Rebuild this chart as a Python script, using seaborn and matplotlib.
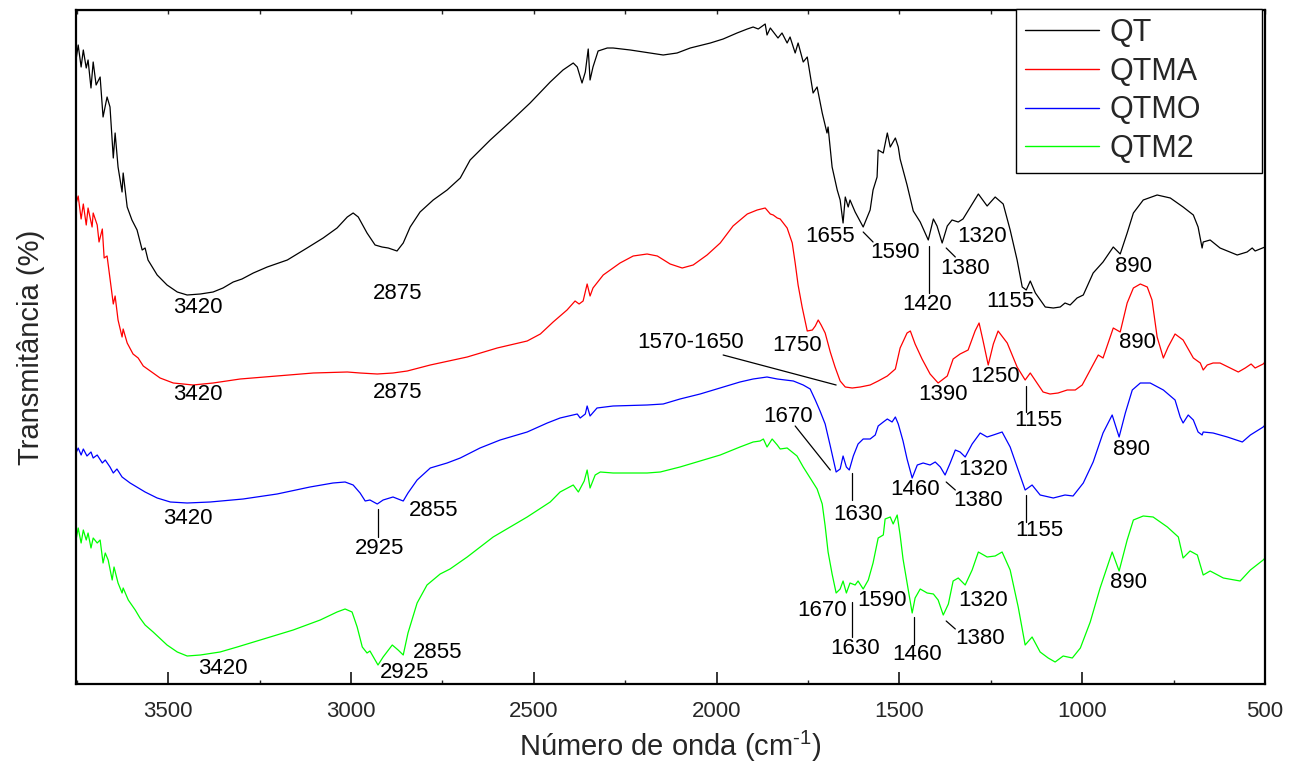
import matplotlib
matplotlib.use("Agg")
import matplotlib.pyplot as plt
import seaborn as sns
import pandas as pd
from matplotlib.ticker import MultipleLocator, NullFormatter

# FTIR spectra (wavenumber in cm-1, transmittance in arbitrary offset units)
qt_wn = [3752, 3746, 3738, 3732, 3724, 3719, 3711, 3705, 3697, 3686, 3678, 3667, 3659, 3650,
         3645, 3637, 3626, 3623, 3612, 3599, 3585, 3571, 3563, 3555, 3530, 3503, 3475, 3448,
         3412, 3377, 3350, 3322, 3298, 3267, 3229, 3174, 3120, 3076, 3038, 3010, 2994, 2980,
         2956, 2934, 2915, 2898, 2874, 2857, 2838, 2811, 2775, 2737, 2701, 2674, 2619, 2565,
         2510, 2455, 2420, 2392, 2381, 2368, 2359, 2351, 2346, 2338, 2324, 2299, 2283, 2236,
         2182, 2146, 2108, 2072, 2017, 1982, 1944, 1916, 1900, 1886, 1867, 1862, 1853, 1832,
         1821, 1807, 1799, 1785, 1777, 1763, 1752, 1736, 1725, 1711, 1698, 1695, 1684, 1670,
         1662, 1654, 1648, 1640, 1635, 1621, 1599, 1580, 1572, 1561, 1558, 1544, 1533, 1525,
         1511, 1503, 1498, 1479, 1462, 1443, 1421, 1407, 1397, 1383, 1369, 1356, 1339, 1326,
         1306, 1284, 1260, 1238, 1216, 1197, 1178, 1164, 1153, 1142, 1128, 1101, 1079, 1060,
         1047, 1033, 1014, 997, 970, 943, 915, 896, 877, 860, 833, 795, 759, 724, 696, 683,
         672, 669, 650, 623, 576, 549, 535, 527, 500]
qt_t = [624, 639, 617, 634, 616, 624, 596, 622, 599, 607, 567, 587, 577, 526,
        551, 517, 492, 511, 477, 464, 454, 434, 436, 424, 409, 399, 392, 389,
        390, 392, 396, 402, 405, 411, 417, 424, 436, 446, 456, 467, 471, 467,
        451, 439, 437, 436, 433, 441, 457, 472, 484, 494, 506, 524, 544, 562,
        581, 602, 614, 621, 617, 601, 612, 635, 604, 617, 633, 636, 636, 634,
        631, 629, 631, 636, 641, 645, 651, 655, 657, 655, 660, 649, 656, 646,
        651, 641, 647, 631, 641, 622, 627, 591, 597, 571, 551, 557, 517, 494,
        484, 461, 487, 477, 484, 472, 457, 474, 494, 507, 534, 531, 551, 537,
        546, 537, 525, 499, 473, 462, 444, 465, 458, 441, 458, 464, 462, 465,
        477, 490, 478, 487, 480, 454, 424, 397, 394, 403, 391, 377, 376, 377,
        381, 379, 386, 389, 411, 422, 437, 430, 451, 471, 484, 489, 486, 477, 469, 457,
        436, 442, 444, 436, 429, 432, 436, 433, 437]

qtma_wn = [3752, 3746, 3738, 3732, 3724, 3719, 3708, 3705, 3694, 3689, 3680, 3675, 3667, 3659,
           3650, 3645, 3637, 3626, 3623, 3612, 3596, 3582, 3568, 3549, 3522, 3486, 3432, 3377,
           3303, 3202, 3103, 3010, 2975, 2928, 2885, 2846, 2783, 2682, 2600, 2518, 2482, 2447,
           2409, 2387, 2376, 2365, 2354, 2346, 2338, 2310, 2264, 2228, 2190, 2162, 2127, 2094,
           2064, 2026, 1990, 1955, 1916, 1889, 1867, 1853, 1845, 1834, 1826, 1807, 1793, 1785,
           1777, 1766, 1752, 1738, 1730, 1722, 1714, 1703, 1689, 1676, 1662, 1648, 1629, 1607,
           1580, 1558, 1533, 1511, 1498, 1479, 1470, 1457, 1438, 1416, 1394, 1369, 1353, 1334,
           1312, 1293, 1282, 1271, 1257, 1243, 1230, 1205, 1178, 1156, 1142, 1129, 1107, 1088,
           1066, 1041, 1019, 1000, 978, 956, 943, 929, 915, 896, 877, 860, 841, 822, 809, 795,
           778, 765, 746, 724, 696, 677, 669, 658, 642, 623, 601, 573, 554, 538, 527, 505, 500]
qtma_t = [480, 488, 465, 480, 459, 476, 457, 471, 459, 442, 455, 426, 428, 405,
          380, 388, 364, 347, 355, 341, 330, 326, 318, 313, 306, 301, 299, 301,
          305, 308, 311, 312, 311, 310, 311, 313, 319, 327, 336, 343, 350, 362,
          374, 383, 380, 383, 400, 388, 396, 409, 421, 428, 430, 428, 420, 416,
          419, 429, 441, 458, 470, 474, 476, 470, 469, 466, 465, 456, 441, 421,
          399, 377, 353, 354, 358, 364, 359, 351, 332, 317, 303, 297, 296, 297,
          299, 303, 308, 315, 336, 351, 353, 340, 325, 310, 301, 308, 325, 330,
          334, 353, 361, 343, 319, 340, 353, 341, 317, 304, 311, 304, 292, 290,
          291, 294, 294, 299, 314, 329, 326, 341, 356, 352, 381, 396, 400, 397, 384, 347,
          326, 337, 350, 344, 326, 321, 314, 319, 321, 321, 317, 312, 316, 320, 316, 320, 322]

qtmo_wn = [3752, 3746, 3738, 3732, 3722, 3711, 3705, 3694, 3680, 3672, 3659, 3650, 3640, 3626,
           3604, 3577, 3563, 3530, 3494, 3448, 3385, 3295, 3202, 3112, 3049, 3016, 2994, 2975,
           2961, 2948, 2928, 2912, 2885, 2857, 2844, 2819, 2783, 2737, 2701, 2647, 2592, 2518,
           2463, 2428, 2381, 2373, 2359, 2354, 2346, 2327, 2283, 2190, 2146, 2100, 2045, 1990,
           1936, 1900, 1862, 1834, 1790, 1763, 1744, 1730, 1717, 1703, 1689, 1673, 1662, 1654,
           1645, 1637, 1626, 1613, 1599, 1580, 1566, 1558, 1544, 1533, 1520, 1511, 1503, 1490,
           1479, 1465, 1451, 1435, 1416, 1402, 1388, 1375, 1361, 1347, 1334, 1320, 1301, 1279,
           1260, 1243, 1219, 1197, 1178, 1156, 1137, 1115, 1079, 1047, 1025, 997, 970, 943,
           918, 899, 882, 863, 841, 814, 778, 746, 732, 724, 710, 696, 683, 672, 669, 642,
           603, 562, 540, 505, 500]
qtmo_t = [231, 236, 229, 235, 228, 232, 226, 229, 221, 224, 217, 211, 215, 207,
          201, 195, 192, 186, 182, 181, 182, 185, 190, 197, 201, 202, 199, 191,
          183, 184, 180, 184, 187, 183, 191, 204, 216, 221, 226, 236, 244, 252,
          261, 266, 270, 266, 270, 278, 268, 276, 278, 279, 280, 285, 290, 296,
          302, 305, 307, 305, 303, 299, 295, 284, 273, 260, 238, 212, 215, 228,
          217, 214, 228, 240, 245, 245, 249, 258, 262, 265, 262, 267, 260, 243,
          225, 206, 219, 221, 219, 222, 217, 209, 221, 234, 232, 227, 240, 251,
          247, 249, 252, 237, 217, 194, 199, 189, 186, 189, 188, 201, 222, 251,
          269, 247, 271, 294, 301, 301, 294, 284, 267, 261, 269, 264, 252, 249, 252, 251,
          247, 242, 249, 257, 259]

qtm2_wn = [3752, 3746, 3738, 3732, 3724, 3719, 3711, 3705, 3694, 3686, 3678, 3672, 3664, 3653,
           3648, 3637, 3626, 3623, 3609, 3590, 3577, 3563, 3541, 3503, 3475, 3448, 3412, 3358,
           3311, 3248, 3158, 3084, 3038, 3016, 2997, 2983, 2969, 2956, 2948, 2926, 2912, 2887,
           2871, 2857, 2844, 2819, 2792, 2756, 2729, 2682, 2611, 2518, 2455, 2428, 2392, 2378,
           2362, 2354, 2346, 2332, 2318, 2283, 2190, 2154, 2100, 2045, 1990, 1936, 1900, 1881,
           1872, 1862, 1848, 1834, 1826, 1807, 1780, 1763, 1744, 1725, 1711, 1703, 1695, 1684,
           1673, 1662, 1654, 1645, 1635, 1621, 1613, 1599, 1585, 1572, 1558, 1544, 1539, 1525,
           1517, 1506, 1498, 1490, 1476, 1465, 1457, 1443, 1424, 1407, 1394, 1380, 1366, 1353,
           1339, 1320, 1301, 1284, 1260, 1238, 1219, 1197, 1175, 1156, 1137, 1115, 1093, 1074,
           1052, 1027, 1005, 978, 951, 918, 899, 877, 860, 833, 806, 767, 737, 724, 705, 685,
           669, 650, 614, 568, 540, 505, 500]
qtm2_t = [144, 156, 141, 154, 144, 151, 136, 146, 141, 144, 121, 131, 124, 104,
          117, 101, 91, 96, 84, 74, 66, 59, 52, 39, 32, 28, 29, 32,
          37, 44, 54, 64, 72, 75, 72, 57, 37, 31, 33, 19, 27, 39,
          34, 29, 51, 81, 99, 110, 115, 127, 147, 167, 182, 192, 199, 192,
          203, 214, 196, 209, 212, 211, 211, 212, 217, 223, 229, 237, 242, 243,
          245, 237, 245, 239, 235, 236, 228, 217, 206, 195, 180, 158, 132, 110,
          91, 95, 103, 91, 101, 99, 103, 95, 104, 121, 146, 149, 165, 167,
          160, 169, 149, 125, 95, 71, 86, 95, 91, 90, 84, 69, 80, 103,
          106, 99, 114, 132, 127, 128, 132, 114, 77, 39, 47, 32, 26, 22,
          28, 26, 36, 62, 96, 132, 113, 144, 164, 168, 167, 157, 147, 126, 133, 129,
          109, 113, 106, 103, 114, 124, 126]

series_names = ["QT", "QTMA", "QTMO", "QTM2"]
series_colors = ["#000000", "#ff0000", "#0000ff", "#00ff00"]
x_major = [3500, 3000, 2500, 2000, 1500, 1000, 500]

# band assignments: (label, x, y) and leader segments (x1, y1, x2, y2)
band_labels = [
    ("3420", 3420, 376), ("2875", 2871, 390), ("1655", 1689, 447), ("1590", 1511, 432),
    ("1420", 1424, 379), ("1380", 1320, 415), ("1320", 1273, 447), ("1155", 1197, 382),
    ("890", 860, 418),
    ("3420", 3420, 289), ("2875", 2871, 291), ("1750", 1780, 338), ("1570-1650", 2072, 341),
    ("1390", 1380, 289), ("1250", 1238, 307), ("1155", 1120, 263), ("890", 850, 341),
    ("3420", 3445, 166), ("2925", 2923, 135), ("2855", 2775, 173), ("1670", 1804, 267),
    ("1630", 1613, 169), ("1460", 1457, 194), ("1380", 1284, 183), ("1320", 1271, 214),
    ("1155", 1118, 153), ("890", 866, 234),
    ("3420", 3350, 16), ("2925", 2852, 11), ("2855", 2764, 31), ("1670", 1711, 73),
    ("1590", 1547, 84), ("1630", 1621, 35), ("1460", 1451, 30), ("1380", 1279, 45),
    ("1320", 1271, 84), ("890", 874, 101),
]
leader_lines = [
    (1599, 452, 1572, 442), (1420, 438, 1420, 391), (1372, 436, 1347, 427),
    (1982, 329, 1673, 299), (1155, 298, 1155, 272),
    (2925, 175, 2925, 147), (1785, 258, 1689, 214), (1630, 211, 1630, 184),
    (1372, 202, 1347, 194), (1155, 189, 1155, 162),
    (1630, 82, 1630, 47), (1460, 67, 1460, 39), (1372, 63, 1347, 55),
]

frames = []
for name, wn, t in zip(series_names, [qt_wn, qtma_wn, qtmo_wn, qtm2_wn],
                       [qt_t, qtma_t, qtmo_t, qtm2_t]):
    frames.append(pd.DataFrame({"wn": wn, "T": t, "amostra": name}))
df = pd.concat(frames, ignore_index=True)

sns.set_style("ticks")
plt.rcParams["font.family"] = ["Liberation Sans", "DejaVu Sans"]
plt.rcParams["mathtext.fontset"] = "custom"
plt.rcParams["mathtext.rm"] = "Liberation Sans"
plt.rcParams["mathtext.default"] = "regular"

W, H = 1291, 782
fig = plt.figure(figsize=(W / 100, H / 100), dpi=100)
ax = fig.add_axes([76 / W, 1 - 684 / H, 1189 / W, 674 / H])

sns.lineplot(data=df, x="wn", y="T", hue="amostra", hue_order=series_names,
             palette=dict(zip(series_names, series_colors)), sort=False,
             estimator=None, linewidth=0.9, ax=ax)

for txt, x, y in band_labels:
    ax.text(x, y, txt, ha="center", va="center", fontsize=16, color="black")
for x1, y1, x2, y2 in leader_lines:
    ax.plot([x1, x2], [y1, y2], color="black", linewidth=0.9)

ax.set_xlim(3752, 500)
ax.set_ylim(0, 674)
ax.set_yticks([])
ax.set_xticks(x_major)
ax.set_xticklabels([str(v) for v in x_major])
ax.xaxis.set_minor_locator(MultipleLocator(250))
ax.tick_params(axis="x", which="major", direction="in", length=9, width=1.3,
               labelsize=16, pad=12)
ax.tick_params(axis="x", which="minor", direction="in", length=3, width=1.0)
for sp in ax.spines.values():
    sp.set_linewidth(1.6)
    sp.set_color("black")

top = ax.secondary_xaxis("top")
top.xaxis.set_major_locator(MultipleLocator(250))
top.xaxis.set_major_formatter(NullFormatter())
top.tick_params(axis="x", direction="in", length=3, width=1.0)

ax.set_xlabel("Número de onda (cm$^{\u2010 1}$)", fontsize=21, labelpad=5)
ax.set_ylabel("Transmitância (%)", fontsize=21, labelpad=22)

handles, labels = ax.get_legend_handles_labels()
leg = ax.legend(handles, labels, loc="upper left",
                bbox_to_anchor=(0.7906, 0.0, 0.2069, 1.0015), mode="expand",
                borderaxespad=0, fontsize=22, handlelength=2.4, handletextpad=0.35,
                labelspacing=0.28, borderpad=0.3, frameon=True, fancybox=False,
                framealpha=1, edgecolor="black")
leg.get_frame().set_linewidth(1.0)
for h in leg.get_lines():
    h.set_linewidth(1.0)

fig.savefig("out.png", dpi=100)
